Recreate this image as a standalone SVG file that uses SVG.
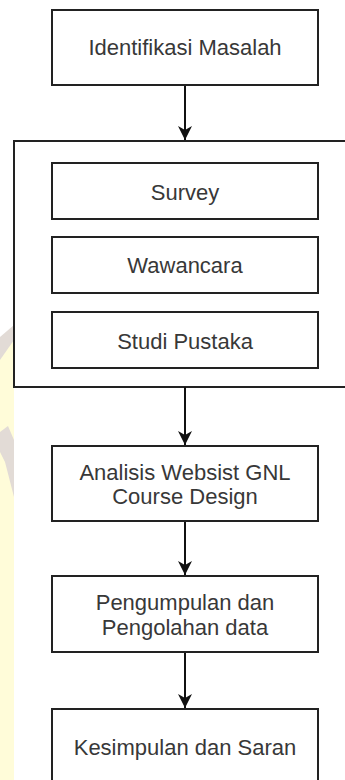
<svg xmlns="http://www.w3.org/2000/svg" width="345" height="780" viewBox="0 0 345 780">
<style>
.box{fill:#fff;stroke:#222;stroke-width:2}
.lbl{font-family:"Liberation Sans",Arial,sans-serif;font-size:22px;fill:#383838;text-anchor:middle}
.edge{fill:none;stroke:#111;stroke-width:2}
</style>
<defs>
<marker id="arr" markerUnits="userSpaceOnUse" markerWidth="16" markerHeight="16" refX="14" refY="7" orient="auto">
<path d="M14,7 L0,0 L4,7 L0,14 Z" fill="#111"/>
</marker>
</defs>
<rect width="345" height="780" fill="#fff"/>
<g id="watermark">
<rect x="0" y="338" width="14" height="442" fill="#fffcd9"/>
<polygon points="0,337 14,325 14,340 0,360" fill="#e2dbd6"/>
<polygon points="0,432 8,426 14,440 14,497 5,462 0,452" fill="#e2dbd6"/>
</g>
<g id="container">
<rect class="box" x="14" y="141" width="345" height="246"/>
</g>
<g id="connectors">
<path class="edge" d="M185,85 V140" marker-end="url(#arr)"/>
<path class="edge" d="M185,387 V445" marker-end="url(#arr)"/>
<path class="edge" d="M185,521 V575" marker-end="url(#arr)"/>
<path class="edge" d="M185,652 V708" marker-end="url(#arr)"/>
</g>
<g id="identifikasi">
<rect class="box" x="52" y="10" width="266" height="75"/>
<text class="lbl" x="185" y="55">Identifikasi Masalah</text>
</g>
<g id="survey">
<rect class="box" x="52" y="163" width="266" height="56"/>
<text class="lbl" x="185" y="200">Survey</text>
</g>
<g id="wawancara">
<rect class="box" x="52" y="237" width="266" height="56"/>
<text class="lbl" x="185" y="273">Wawancara</text>
</g>
<g id="studi">
<rect class="box" x="52" y="312" width="266" height="56"/>
<text class="lbl" x="185" y="349">Studi Pustaka</text>
</g>
<g id="analisis">
<rect class="box" x="52" y="446" width="266" height="75"/>
<text class="lbl" x="185" y="480">Analisis Websist GNL</text>
<text class="lbl" x="185" y="504">Course Design</text>
</g>
<g id="pengumpulan">
<rect class="box" x="52" y="576" width="266" height="76"/>
<text class="lbl" x="185" y="610">Pengumpulan dan</text>
<text class="lbl" x="185" y="635">Pengolahan data</text>
</g>
<g id="kesimpulan">
<rect class="box" x="52" y="709" width="266" height="80"/>
<text class="lbl" x="185" y="755">Kesimpulan dan Saran</text>
</g>
</svg>
